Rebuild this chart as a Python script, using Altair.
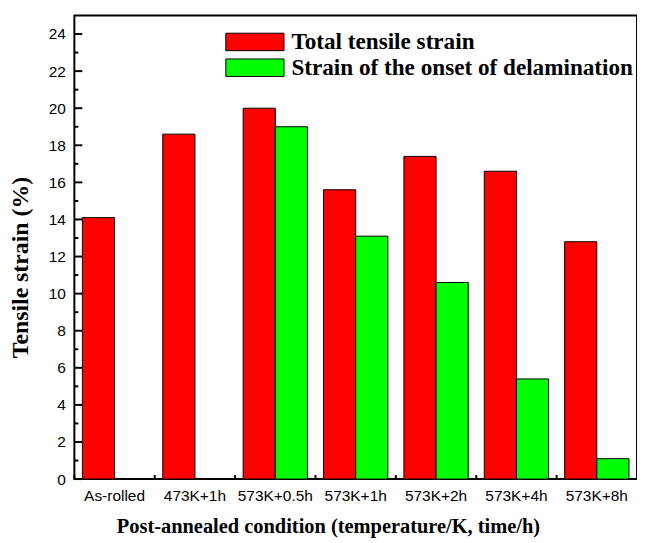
import altair as alt
import pandas as pd

conditions = ["As-rolled", "473K+1h", "573K+0.5h", "573K+1h", "573K+2h", "573K+4h", "573K+8h"]
total_strain = [14.1, 18.6, 20.0, 15.6, 17.4, 16.6, 12.8]
onset_strain = [None, None, 19.0, 13.1, 10.6, 5.4, 1.1]
series_names = ["Total tensile strain", "Strain of the onset of delamination"]
series_colors = ["#FF0000", "#00FF00"]
y_major = list(range(0, 25, 2))
y_minor = list(range(1, 25, 2))

rows = []
for c, t, o in zip(conditions, total_strain, onset_strain):
    rows.append({"condition": c, "series": series_names[0], "value": t})
    if o is not None:
        rows.append({"condition": c, "series": series_names[1], "value": o})
df = pd.DataFrame(rows)
major_df = pd.DataFrame({"tick": y_major})
minor_df = pd.DataFrame({"tick": y_minor})
cond_df = pd.DataFrame({"condition": conditions})

H = 468
W = 568
yscale = alt.Scale(domain=[0, 25], nice=False)
xscale = alt.Scale(domain=conditions, paddingInner=0, paddingOuter=0)

xaxis = alt.Axis(title="Post-annealed condition (temperature/K, time/h)",
                 labelAngle=0, ticks=False, domain=False,
                 labelPadding=10, titlePadding=12, titleX=256,
                 titleFontSize=20.6)
yaxis = alt.Axis(title="Tensile strain (%)", values=y_major, ticks=False,
                 domain=False, grid=False, labelOverlap=False,
                 labelPadding=9, titlePadding=16, titleY=254,
                 titleFontSize=24)

bars = alt.Chart(df).mark_bar(stroke="black", strokeWidth=1).encode(
    x=alt.X("condition:N", sort=conditions, scale=xscale, axis=xaxis),
    xOffset=alt.XOffset("series:N", sort=series_names,
                        scale=alt.Scale(domain=series_names, paddingInner=0, paddingOuter=0.25)),
    y=alt.Y("value:Q", scale=yscale, axis=yaxis),
    color=alt.Color("series:N", sort=series_names,
                    scale=alt.Scale(domain=series_names, range=series_colors),
                    legend=alt.Legend(title=None, orient="none", legendX=150, legendY=15,
                                      symbolType="M-1,-1H5.67V1H-1Z", symbolSize=310,
                                      symbolStrokeColor="black", symbolStrokeWidth=1,
                                      symbolOpacity=1,
                                      labelFont="Liberation Serif", labelFontWeight="bold",
                                      labelFontSize=23.4, labelColor="black",
                                      labelOffset=45.7, labelLimit=600,
                                      rowPadding=1, padding=0)),
)

major_ticks = alt.Chart(major_df).mark_rule(color="black", strokeWidth=2).encode(
    y=alt.Y("tick:Q", scale=yscale, axis=None),
    x=alt.value(0),
    x2=alt.value(8),
)

minor_ticks = alt.Chart(minor_df).mark_rule(color="black", strokeWidth=2).encode(
    y=alt.Y("tick:Q", scale=yscale, axis=None),
    x=alt.value(0),
    x2=alt.value(4),
)

band_ticks = alt.Chart(cond_df).mark_rule(color="black", strokeWidth=2).encode(
    x=alt.X("condition:N", sort=conditions, scale=xscale, axis=None, bandPosition=0),
    y=alt.value(H),
    y2=alt.value(H - 4),
)

chart = alt.layer(bars, major_ticks, minor_ticks, band_ticks).resolve_axis(
    x="independent", y="independent"
).properties(
    width=W, height=H,
    padding={"left": 0, "top": 5, "right": 0, "bottom": 5},
).configure_view(
    stroke="black", strokeWidth=2
).configure_axis(
    labelFont="Liberation Sans", labelFontSize=15.6, labelColor="black",
    titleFont="Liberation Serif", titleFontWeight="bold",
    titleColor="black", grid=False
)

chart.save("out.html", embed_options={"renderer": "svg", "actions": False})
